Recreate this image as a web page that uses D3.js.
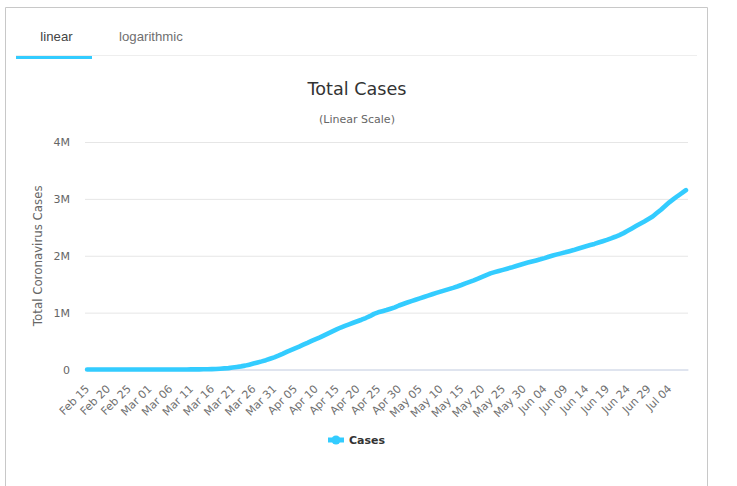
<!DOCTYPE html>
<html>
<head>
<meta charset="utf-8">
<script src="https://cdnjs.cloudflare.com/ajax/libs/d3/7.8.5/d3.min.js"></script>
<style>
    html, body { margin: 0; padding: 0; background: #fff; }
    svg { display: block; }
    text { font-family: "DejaVu Sans", sans-serif; }
    .tab { font-family: "Liberation Sans", Arial, sans-serif; font-size: 13.2px; }
</style>
</head>
<body>
<div id="graph1"></div>
<script>
// Daily totals
const feb_cases = [15,15,15,15,15,15,35,35,35,53,57,60,60,68,75];
const mar_cases = [100,124,158,221,319,435,541,704,994,1301,1630,2183,2770,3613,4596,6344,9197,13779,19367,24192,
    33592,43781,54856,68211,85435,104126,123578,142735,163788,188172,213372];
const apr_cases = [243000,275000,309000,340000,372000,402000,436000,468000,502000,534000,565000,600000,635000,670000,705000,
    738000,768000,795000,822000,848000,875000,905000,938000,978000,1005000,1025000,1045000,1068000,1092000,1125000];
const may_cases = [1152000,1178000,1203000,1226000,1250000,1274000,1298000,1323000,1347000,1370000,1392000,1414000,1436000,1460000,1486000,
    1514000,1540000,1566000,1596000,1628000,1660000,1690000,1712000,1733000,1752000,1772000,1792000,1815000,1838000,1860000,1880000];
const jun_cases = [1899000,1918000,1937000,1958000,1982000,2004000,2024000,2042000,2060000,2080000,2100000,2124000,2146000,2168000,2188000,
    2208000,2232000,2256000,2280000,2306000,2334000,2364000,2398000,2438000,2480000,2522000,2562000,2602000,2645000,2690000];
const jul_cases = [2750000,2810000,2875000,2940000,2995000,3050000,3100000,3155000];

const cases = [...feb_cases, ...mar_cases, ...apr_cases, ...may_cases, ...jun_cases, ...jul_cases];
const month_names = ["Feb", "Mar", "Apr", "May", "Jun", "Jul"];
const month_lengths = [feb_cases, mar_cases, apr_cases, may_cases, jun_cases, jul_cases].map(d => d.length);
const month_starts = [15, 1, 1, 1, 1, 1];

// Category labels, one per day
const categories = [];
month_names.forEach(function(name, m) {
    for (let i = 0; i < month_lengths[m]; i++) {
        categories.push(name + " " + String(month_starts[m] + i).padStart(2, "0"));
    }
});
const tick_labels = categories.filter((d, i) => i % 5 === 0);
const y_ticks = [0, 1000000, 2000000, 3000000, 4000000];
const y_tick_labels = ["0", "1M", "2M", "3M", "4M"];
const tabs = ["linear", "logarithmic"];

const width = 737, height = 486;
const margin = {top: 142, right: 49, bottom: 116.5, left: 85};
const accent = "#33ccff";

let svg = d3.select("#graph1")
    .append("svg")
    .attr("width", width)
    .attr("height", height);

// Card outline, runs off the bottom of the page
svg.append("path")
    .attr("d", "M5.5,486V7.5H707.5V486")
    .attr("fill", "none")
    .attr("stroke", "#c8c8c8");

// Tab bar
svg.append("line")
    .attr("x1", 16).attr("x2", 697).attr("y1", 55.5).attr("y2", 55.5)
    .attr("stroke", "#eeeeee");
svg.append("rect")
    .attr("x", 16).attr("y", 56).attr("width", 76).attr("height", 3)
    .attr("fill", accent);
svg.selectAll(".tab").data(tabs).enter()
    .append("text")
    .attr("class", "tab")
    .attr("x", (d, i) => i === 0 ? 56.5 : 151)
    .attr("y", 41)
    .attr("text-anchor", "middle")
    .attr("fill", (d, i) => i === 0 ? "#444444" : "#6f6f6f")
    .text(d => d);

// Titles
svg.append("text")
    .attr("x", 357).attr("y", 94.5)
    .attr("text-anchor", "middle")
    .attr("font-size", 17.6)
    .attr("fill", "#333333")
    .text("Total Cases");
svg.append("text")
    .attr("x", 357).attr("y", 122.5)
    .attr("text-anchor", "middle")
    .attr("font-size", 11)
    .attr("fill", "#666666")
    .text("(Linear Scale)");

let plot = svg.append("g")
    .attr("transform", `translate(${margin.left}, ${margin.top})`);
const plot_w = width - margin.left - margin.right;
const plot_h = height - margin.top - margin.bottom;

let x = d3.scaleBand().domain(categories).range([0, plot_w]);
let y = d3.scaleLinear().domain([0, 4000000]).range([plot_h, 0]);

// Grid and y labels
let yAxis = plot.append("g")
    .call(d3.axisLeft(y).tickValues(y_ticks).tickSize(-plot_w).tickPadding(15)
        .tickFormat((d, i) => y_tick_labels[i]));
yAxis.select(".domain").remove();
yAxis.selectAll("line").attr("stroke", "#e6e6e6");
yAxis.selectAll("text")
    .attr("fill", "#666666")
    .style("font-size", "11px")
    .style("font-family", "DejaVu Sans");

// X axis, rotated labels
let xAxis = plot.append("g")
    .attr("transform", `translate(0, ${plot_h})`)
    .call(d3.axisBottom(x).tickValues(tick_labels).tickSize(0).tickPadding(0));
xAxis.select(".domain").attr("stroke", "#ccd6eb");
xAxis.selectAll("text")
    .attr("fill", "#707070")
    .style("font-size", "11px")
    .style("font-family", "DejaVu Sans")
    .style("text-anchor", "end")
    .attr("dy", 0)
    .attr("y", 0)
    .attr("transform", "translate(3, 20) rotate(-45)");

// Y axis title
plot.append("text")
    .attr("transform", `translate(-43, ${plot_h / 2}) rotate(-90)`)
    .attr("text-anchor", "middle")
    .attr("font-size", 11.8)
    .attr("fill", "#666666")
    .text("Total Coronavirus Cases");

// Cases line
let line = d3.line()
    .x((d, i) => x(categories[i]) + x.bandwidth() / 2)
    .y(d => y(d));
plot.append("path")
    .datum(cases)
    .attr("d", line)
    .attr("fill", "none")
    .attr("stroke", accent)
    .attr("stroke-width", 4.6)
    .attr("stroke-linecap", "round")
    .attr("stroke-linejoin", "round");

// Legend
let legend = svg.append("g").attr("transform", "translate(328, 440)");
legend.append("line")
    .attr("x1", 0).attr("x2", 16)
    .attr("stroke", accent).attr("stroke-width", 5);
legend.append("circle")
    .attr("cx", 8).attr("r", 4.5)
    .attr("fill", accent);
legend.append("text")
    .attr("x", 21).attr("y", 4)
    .attr("font-size", 11)
    .attr("font-weight", "bold")
    .attr("fill", "#333333")
    .text("Cases");
</script>
</body>
</html>
